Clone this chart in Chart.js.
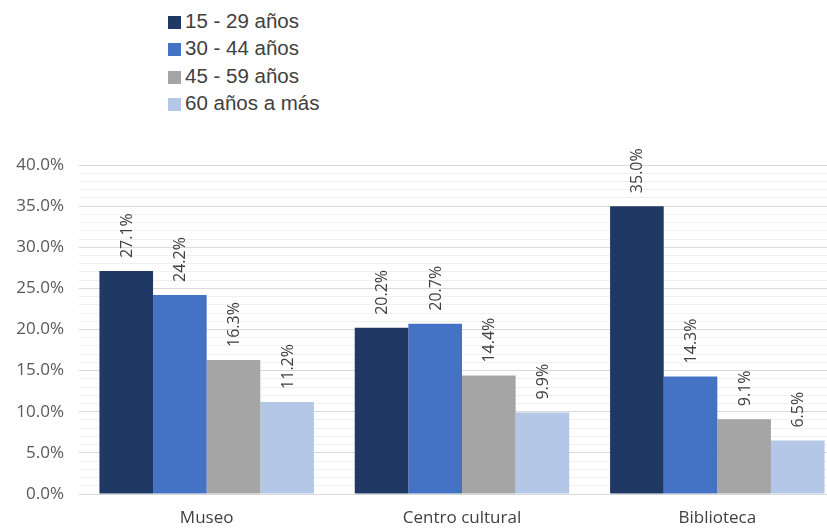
<!DOCTYPE html>
<html>
<head>
<meta charset="utf-8">
<script src="https://cdn.jsdelivr.net/npm/chart.js@4"></script>
<style>
  html, body { margin: 0; padding: 0; background: #fff; overflow: hidden; }
  body { width: 827px; height: 528px; position: relative; }
  #legend { position: absolute; left: 168px; top: 7px; font-family: "Liberation Sans", Arial, sans-serif; font-size: 20.5px; color: #404040; }
  #legend div { height: 27.3px; line-height: 27.3px; white-space: nowrap; }
  #legend span { display: inline-block; width: 13px; height: 13px; margin-right: 4px; vertical-align: -1px; }
  #wrap { position: absolute; left: 0; top: 138px; width: 848px; height: 390px; }
</style>
</head>
<body>
<div id="legend"></div>
<div id="wrap"><canvas id="barChart"></canvas></div>
<script>
// categories and series
const categories = ["Museo", "Centro cultural", "Biblioteca"];
const seriesNames = ["15 - 29 años", "30 - 44 años", "45 - 59 años", "60 años a más"];
const age15to29 = [27.1, 20.2, 35.0];
const age30to44 = [24.2, 20.7, 14.3];
const age45to59 = [16.3, 14.4, 9.1];
const age60plus = [11.2, 9.9, 6.5];
const seriesColors = ["#203864", "#4472c4", "#a5a5a5", "#b4c7e7"];

const seriesValues = [age15to29, age30to44, age45to59, age60plus];

// rotated value labels above each bar
const valueLabels = {
  id: "valueLabels",
  afterDatasetsDraw(chart){
    const ctx = chart.ctx;
    ctx.save();
    ctx.font = "16px 'Open Sans', sans-serif";
    ctx.fillStyle = "#404040";
    ctx.textAlign = "left";
    ctx.textBaseline = "middle";
    chart.data.datasets.forEach((ds, i) => {
      const meta = chart.getDatasetMeta(i);
      meta.data.forEach((bar, j) => {
        ctx.save();
        ctx.translate(bar.x + 1, bar.y - 13);
        ctx.rotate(-Math.PI / 2);
        ctx.fillText(ds.data[j].toFixed(1) + "%", 0, 0);
        ctx.restore();
      });
    });
    ctx.restore();
  }
};

const chart = new Chart(document.getElementById("barChart"), {
  type: "bar",
  data: {
    labels: categories,
    datasets: seriesNames.map((name, i) => ({
      label: name,
      data: seriesValues[i],
      backgroundColor: seriesColors[i],
      categoryPercentage: 0.84,
      barPercentage: 1.0
    }))
  },
  options: {
    responsive: true,
    maintainAspectRatio: false,
    animation: false,
    layout: { padding: { top: 27, right: 3 } },
    plugins: {
      legend: { display: false },
      tooltip: { enabled: false }
    },
    scales: {
      x: {
        grid: { display: false, drawTicks: false },
        border: { color: "#d9d9d9" },
        ticks: { color: "#404040", font: { family: "Open Sans", size: 17 }, padding: 14 },
        afterFit(scale){ scale.height = 34; }
      },
      y: {
        min: 0,
        max: 40,
        border: { display: false },
        grid: {
          drawTicks: false,
          color: ctx => (ctx.tick.value % 5 === 0 ? "#d9d9d9" : "#f0f0f0")
        },
        ticks: {
          stepSize: 1,
          autoSkip: false,
          padding: 15,
          color: "#595959",
          font: { family: "Open Sans", size: 17 },
          callback: v => (v % 5 === 0 ? v.toFixed(1) + "%" : "")
        },
        afterFit(scale){ scale.width = 79; }
      }
    }
  },
  plugins: [valueLabels]
});

// legend, one entry per row
const legendBox = document.getElementById("legend");
chart.data.datasets.forEach(ds => {
  const row = document.createElement("div");
  row.innerHTML = '<span style="background:' + ds.backgroundColor + '"></span>' + ds.label;
  legendBox.appendChild(row);
});
</script>
</body>
</html>
